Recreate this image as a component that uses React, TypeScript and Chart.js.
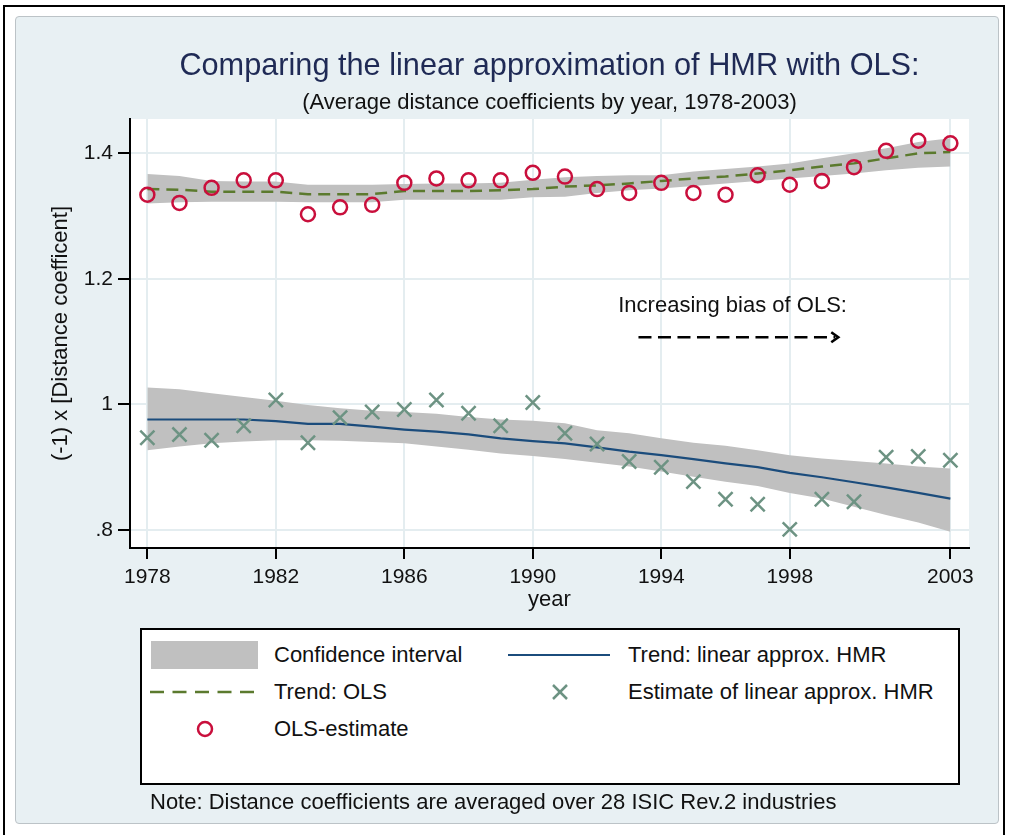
import React, { useEffect, useRef } from "react";
import { Chart, registerables } from "chart.js";

Chart.register(...registerables);

// ---------------- data ----------------
const years = [1978, 1979, 1980, 1981, 1982, 1983, 1984, 1985, 1986, 1987, 1988, 1989, 1990, 1991, 1992, 1993, 1994, 1995, 1996, 1997, 1998, 1999, 2000, 2001, 2002, 2003];

const olsEstimate = [1.334, 1.321, 1.345, 1.357, 1.357, 1.303, 1.314, 1.318, 1.353, 1.360, 1.357, 1.357, 1.369, 1.363, 1.343, 1.337, 1.353, 1.337, 1.334, 1.365, 1.350, 1.356, 1.378, 1.404, 1.420, 1.416];
const olsTrend = [1.343, 1.342, 1.339, 1.339, 1.339, 1.335, 1.335, 1.335, 1.340, 1.340, 1.340, 1.341, 1.343, 1.347, 1.349, 1.352, 1.356, 1.360, 1.363, 1.368, 1.373, 1.379, 1.384, 1.392, 1.400, 1.402];
const olsUpper = [1.367, 1.364, 1.356, 1.355, 1.355, 1.350, 1.350, 1.350, 1.351, 1.352, 1.352, 1.353, 1.358, 1.362, 1.364, 1.365, 1.365, 1.371, 1.375, 1.379, 1.384, 1.392, 1.400, 1.408, 1.418, 1.424];
const olsLower = [1.320, 1.322, 1.323, 1.323, 1.323, 1.322, 1.322, 1.322, 1.326, 1.326, 1.326, 1.326, 1.330, 1.331, 1.337, 1.341, 1.344, 1.348, 1.352, 1.356, 1.360, 1.364, 1.368, 1.373, 1.377, 1.379];

const hmrEstimate = [0.947, 0.952, 0.943, 0.966, 1.007, 0.939, 0.979, 0.988, 0.992, 1.007, 0.986, 0.966, 1.003, 0.954, 0.937, 0.909, 0.900, 0.877, 0.849, 0.841, 0.801, 0.849, 0.845, 0.916, 0.917, 0.911];
const hmrTrend = [0.976, 0.976, 0.976, 0.976, 0.9735, 0.969, 0.969, 0.9645, 0.960, 0.9566, 0.9523, 0.946, 0.9417, 0.938, 0.9317, 0.9247, 0.9194, 0.913, 0.906, 0.900, 0.891, 0.884, 0.876, 0.868, 0.859, 0.850];
const hmrUpper = [1.027, 1.024, 1.018, 1.012, 1.006, 0.999, 0.994, 0.990, 0.988, 0.985, 0.980, 0.976, 0.974, 0.970, 0.959, 0.954, 0.946, 0.939, 0.934, 0.927, 0.919, 0.914, 0.910, 0.906, 0.901, 0.898];
const hmrLower = [0.927, 0.933, 0.938, 0.941, 0.943, 0.943, 0.942, 0.940, 0.938, 0.933, 0.928, 0.922, 0.918, 0.913, 0.907, 0.901, 0.893, 0.885, 0.877, 0.870, 0.859, 0.850, 0.837, 0.824, 0.812, 0.797];

const xTickValues = [1978, 1982, 1986, 1990, 1994, 1998, 2003];
const yTickValues = [0.8, 1.0, 1.2, 1.4];
const yTickLabels = [".8", "1", "1.2", "1.4"];

const xMin = 1977.46;
const xMax = 2003.58;
const yMin = 0.7713;
const yMax = 1.4547;

const titleText = "Comparing the linear approximation of HMR with OLS:";
const subtitleText = "(Average distance coefficients by year, 1978-2003)";
const xTitle = "year";
const yTitle = "(-1) x [Distance coefficent]";
const noteText = "Note: Distance coefficients are averaged over 28 ISIC Rev.2 industries";

const annotationText = "Increasing bias of OLS:";
const annotationTextX = 1996.22;
const annotationTextY = 1.148;
const arrowFromX = 1993.29;
const arrowToX = 1999.51;
const arrowY = 1.107;

const legendLabels = {
  ci: "Confidence interval",
  hmrTrend: "Trend: linear approx. HMR",
  olsTrend: "Trend: OLS",
  hmrEst: "Estimate of linear approx. HMR",
  olsEst: "OLS-estimate",
};

// ---------------- styles ----------------
const FONT = "'Liberation Sans', Arial, Helvetica, sans-serif";
const BAND = "#c0c0c0";
const RED = "#c90f3c";
const GREEN = "#5b7a2e";
const BLUE = "#1b4c7c";
const XCOL = "#6d9383";
const GRID = "#e4edf0";
const PANEL = "#e8f0f3";
const TITLE_COL = "#1f2a55";
const TEXT_COL = "#111111";

const pts = (vals: number[]) => years.map((yr, i) => ({ x: yr, y: vals[i] }));

const plotBgPlugin = {
  id: "plotBg",
  beforeDraw(chart: any) {
    const { ctx, chartArea: a } = chart;
    ctx.save();
    ctx.fillStyle = "#ffffff";
    ctx.fillRect(a.left, a.top, a.right - a.left, a.bottom - a.top);
    ctx.restore();
  },
};

const annotationPlugin = {
  id: "biasAnnotation",
  afterDatasetsDraw(chart: any) {
    const { ctx, scales } = chart;
    const xs = scales.x;
    const ys = scales.y;
    ctx.save();
    ctx.fillStyle = TEXT_COL;
    ctx.font = `22px ${FONT}`;
    ctx.textAlign = "center";
    ctx.textBaseline = "alphabetic";
    ctx.fillText(annotationText, xs.getPixelForValue(annotationTextX), ys.getPixelForValue(annotationTextY));

    const x0 = xs.getPixelForValue(arrowFromX);
    const x1 = xs.getPixelForValue(arrowToX);
    const y = ys.getPixelForValue(arrowY);
    ctx.strokeStyle = "#000";
    ctx.lineWidth = 2.6;
    ctx.setLineDash([13, 6.5]);
    ctx.beginPath();
    ctx.moveTo(x0, y);
    ctx.lineTo(x1 - 3, y);
    ctx.stroke();
    ctx.setLineDash([]);
    ctx.lineWidth = 2.6;
    ctx.beginPath();
    ctx.moveTo(x1 - 7, y - 5);
    ctx.lineTo(x1, y);
    ctx.lineTo(x1 - 7, y + 5);
    ctx.stroke();
    ctx.restore();
  },
};

function ChartCanvas() {
  const ref = useRef<HTMLCanvasElement | null>(null);
  useEffect(() => {
    if (!ref.current) return;
    const chart = new Chart(ref.current, {
      type: "line",
      data: {
        datasets: [
          { label: "olsUpper", data: pts(olsUpper), borderWidth: 0, pointRadius: 0, fill: false, order: 10, borderColor: BAND, backgroundColor: BAND },
          { label: "olsLower", data: pts(olsLower), borderWidth: 0, pointRadius: 0, fill: 0, order: 10, borderColor: BAND, backgroundColor: BAND },
          { label: "hmrUpper", data: pts(hmrUpper), borderWidth: 0, pointRadius: 0, fill: false, order: 10, borderColor: BAND, backgroundColor: BAND },
          { label: "hmrLower", data: pts(hmrLower), borderWidth: 0, pointRadius: 0, fill: 2, order: 10, borderColor: BAND, backgroundColor: BAND },
          { label: "olsTrend", data: pts(olsTrend), borderColor: GREEN, borderWidth: 2.5, borderDash: [12, 7], pointRadius: 0, fill: false, order: 5, tension: 0 },
          { label: "hmrTrend", data: pts(hmrTrend), borderColor: BLUE, borderWidth: 2.2, pointRadius: 0, fill: false, order: 5, tension: 0 },
          { label: "olsEst", data: pts(olsEstimate), showLine: false, pointStyle: "circle", pointRadius: 7, pointBorderWidth: 2.5, pointBorderColor: RED, pointBackgroundColor: "rgba(0,0,0,0)", borderColor: RED, order: 1 },
          { label: "hmrEst", data: pts(hmrEstimate), showLine: false, pointStyle: "crossRot", pointRadius: 10, pointBorderWidth: 2.5, pointBorderColor: XCOL, borderColor: XCOL, order: 1 },
        ] as any,
      },
      options: {
        animation: false,
        responsive: false,
        devicePixelRatio: 1,
        events: [],
        layout: { padding: { left: 45, top: 119, right: 41, bottom: 218 } },
        plugins: {
          legend: { display: false },
          tooltip: { enabled: false },
          title: { display: false },
        },
        scales: {
          x: {
            type: "linear",
            min: xMin,
            max: xMax,
            afterBuildTicks: (axis: any) => {
              axis.ticks = xTickValues.map((v) => ({ value: v }));
            },
            afterFit: (axis: any) => {
              axis.height = 69;
            },
            ticks: {
              autoSkip: false,
              maxRotation: 0,
              padding: 6,
              color: TEXT_COL,
              font: { family: FONT, size: 21 },
              callback: (_v: any, i: number) => String(xTickValues[i]),
            },
            grid: { color: GRID, lineWidth: 2, tickLength: 11, tickColor: "#000", tickWidth: 2 },
            border: { display: true, color: "#000", width: 2 },
            title: { display: true, text: xTitle, color: TEXT_COL, font: { family: FONT, size: 22 }, padding: { top: 4, bottom: 4 } },
          },
          y: {
            type: "linear",
            min: yMin,
            max: yMax,
            afterBuildTicks: (axis: any) => {
              axis.ticks = yTickValues.map((v) => ({ value: v }));
            },
            afterFit: (axis: any) => {
              axis.width = 85;
            },
            ticks: {
              autoSkip: false,
              padding: 5,
              color: TEXT_COL,
              font: { family: FONT, size: 21 },
              callback: (_v: any, i: number) => yTickLabels[i],
            },
            grid: { color: GRID, lineWidth: 2, tickLength: 12, tickColor: "#000", tickWidth: 2 },
            border: { display: true, color: "#000", width: 2 },
            title: { display: true, text: yTitle, color: TEXT_COL, font: { family: FONT, size: 22 }, padding: { top: 3, bottom: 3 } },
          },
        },
      } as any,
      plugins: [plotBgPlugin, annotationPlugin],
    });
    return () => chart.destroy();
  }, []);
  return (
    <canvas
      ref={ref}
      width={1010}
      height={835}
      style={{ position: "absolute", left: 0, top: 0, width: 1010, height: 835, display: "block" }}
    />
  );
}

const textStyle = (left: number, top: number, size = 22): React.CSSProperties => ({
  position: "absolute",
  left,
  top,
  fontFamily: FONT,
  fontSize: size,
  lineHeight: `${size}px`,
  color: TEXT_COL,
  whiteSpace: "nowrap",
});

export default function App() {
  return (
    <div style={{ position: "absolute", left: 0, top: 0, width: 1010, height: 835, overflow: "hidden", background: "#fff" }}>
      {/* outer frame */}
      <div style={{ position: "absolute", left: 3, top: 5, width: 1002, height: 840, border: "2px solid #000", boxSizing: "border-box" }} />
      {/* graph panel */}
      <div style={{ position: "absolute", left: 15, top: 16, width: 984, height: 808, background: PANEL, border: "1px solid #bcc3c7", borderRadius: 4, boxSizing: "border-box" }} />

      <ChartCanvas />

      {/* titles */}
      <div style={{ position: "absolute", left: 130, top: 50, width: 839, textAlign: "center", fontFamily: FONT, fontSize: 30.7, lineHeight: "30px", color: TITLE_COL, whiteSpace: "nowrap" }}>
        {titleText}
      </div>
      <div style={{ position: "absolute", left: 130, top: 91, width: 839, textAlign: "center", fontFamily: FONT, fontSize: 22, lineHeight: "22px", color: TEXT_COL, whiteSpace: "nowrap" }}>
        {subtitleText}
      </div>

      {/* legend */}
      <div style={{ position: "absolute", left: 140, top: 628, width: 820, height: 157, background: "#fff", border: "2px solid #000", boxSizing: "border-box" }} />
      <svg width={1010} height={835} style={{ position: "absolute", left: 0, top: 0 }}>
        <rect x={151} y={641} width={107} height={28} fill={BAND} />
        <line x1={508} y1={655} x2={610} y2={655} stroke={BLUE} strokeWidth={2.2} />
        <line x1={150} y1={692} x2={258} y2={692} stroke={GREEN} strokeWidth={2.5} strokeDasharray="14 8.5" />
        <line x1={553} y1={685} x2={567} y2={699} stroke={XCOL} strokeWidth={2.5} />
        <line x1={567} y1={685} x2={553} y2={699} stroke={XCOL} strokeWidth={2.5} />
        <circle cx={205} cy={729} r={7} fill="none" stroke={RED} strokeWidth={2.5} />
      </svg>
      <div style={textStyle(274, 644)}>{legendLabels.ci}</div>
      <div style={textStyle(628, 644)}>{legendLabels.hmrTrend}</div>
      <div style={textStyle(274, 681)}>{legendLabels.olsTrend}</div>
      <div style={textStyle(628, 681)}>{legendLabels.hmrEst}</div>
      <div style={textStyle(274, 718)}>{legendLabels.olsEst}</div>

      {/* note */}
      <div style={textStyle(150, 791)}>{noteText}</div>
    </div>
  );
}
